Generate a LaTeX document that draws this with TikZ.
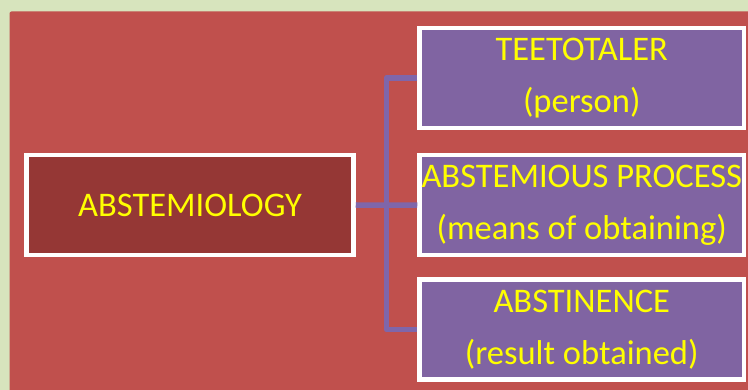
\documentclass[tikz,border=0pt]{standalone}
\usepackage{fontspec}
\setmainfont{Carlito}
\definecolor{bggreen}{HTML}{D7E4BD}
\definecolor{bgred}{HTML}{C0504D}
\definecolor{darkred}{HTML}{953735}
\definecolor{boxpurple}{HTML}{8064A2}
\definecolor{linepurple}{HTML}{7F66AA}
\definecolor{txtyellow}{HTML}{FFFF00}
\begin{document}
\begin{tikzpicture}[x=1pt,y=-1pt,
  boxbase/.style={draw=white, line width=4.5pt, text=txtyellow, align=center,
    font=\fontsize{34.5}{52}\selectfont, inner sep=0pt},
  rootbox/.style={boxbase, fill=darkred, minimum width=327pt, minimum height=100pt},
  leafbox/.style={boxbase, fill=boxpurple, minimum width=324.5pt, minimum height=100pt},
  conn/.style={draw=linepurple, line width=5.5pt, line join=round}]
\useasboundingbox (0,0) rectangle (748,390);
\fill[bggreen] (0,0) rectangle (748,390);
\fill[bgred, rounded corners=2pt] (9.5,11.5) rectangle (760,400);
\node[rootbox] (root) at (190,205) {ABSTEMIOLOGY};
\node[leafbox] (b1) at (581.75,77.9) {TEETOTALER\\(person)};
\node[leafbox] (b2) at (581.75,205.2) {ABSTEMIOUS PROCESS\\(means of obtaining)};
\node[leafbox] (b3) at (581.75,329.4) {ABSTINENCE\\(result obtained)};
\coordinate (j) at (386.3,205);
\draw[conn] (b1.west) -| (j) |- (b3.west);
\draw[conn] (root.east) -- (b2.west);
\end{tikzpicture}
\end{document}
